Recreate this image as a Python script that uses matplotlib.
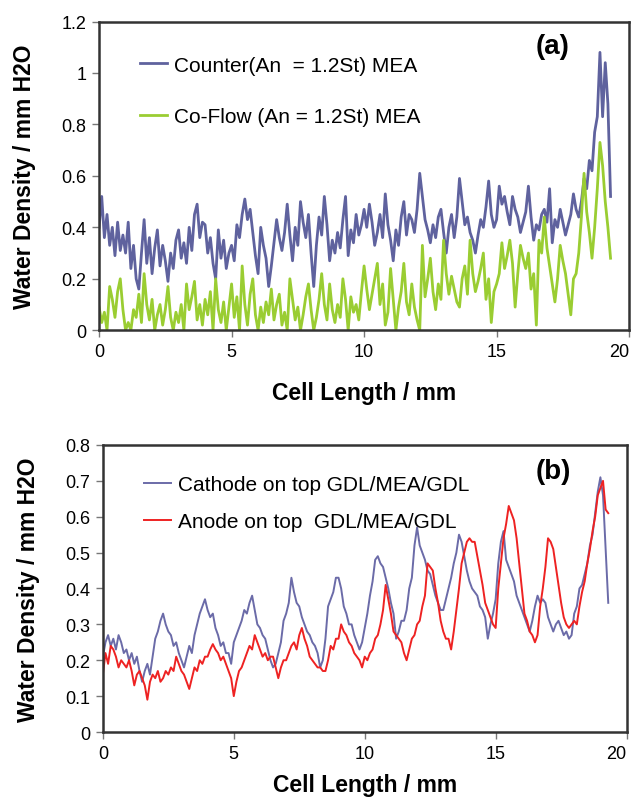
import numpy as np
import matplotlib.pyplot as plt
from matplotlib.ticker import FuncFormatter

step = 0.1

counter_mea = [
    0.40, 0.52, 0.36, 0.45, 0.33, 0.40, 0.29, 0.42, 0.31, 0.37,
    0.30, 0.42, 0.24, 0.33, 0.20, 0.16, 0.30, 0.43, 0.26, 0.36,
    0.22, 0.32, 0.39, 0.25, 0.33, 0.27, 0.19, 0.30, 0.24, 0.35,
    0.39, 0.28, 0.34, 0.26, 0.40, 0.31, 0.45, 0.49, 0.36, 0.42,
    0.41, 0.30, 0.36, 0.26, 0.20, 0.39, 0.28, 0.35, 0.24, 0.30,
    0.33, 0.27, 0.41, 0.36, 0.45, 0.51, 0.43, 0.47, 0.38, 0.29,
    0.22, 0.40, 0.33, 0.28, 0.17, 0.25, 0.34, 0.43, 0.36, 0.31,
    0.38, 0.49, 0.37, 0.27, 0.40, 0.33, 0.50, 0.42, 0.36, 0.45,
    0.30, 0.17, 0.33, 0.44, 0.37, 0.52, 0.41, 0.27, 0.35, 0.30,
    0.38, 0.32, 0.43, 0.52, 0.29, 0.39, 0.34, 0.45, 0.37, 0.41,
    0.47, 0.40, 0.49, 0.42, 0.33, 0.38, 0.45, 0.36, 0.53, 0.41,
    0.35, 0.27, 0.39, 0.33, 0.44, 0.50, 0.37, 0.45, 0.43, 0.38,
    0.47, 0.61, 0.52, 0.43, 0.39, 0.34, 0.41, 0.36, 0.44, 0.47,
    0.38, 0.30, 0.40, 0.45, 0.36, 0.44, 0.59, 0.50, 0.41, 0.44,
    0.38, 0.35, 0.30, 0.37, 0.43, 0.40, 0.48, 0.58, 0.45, 0.40,
    0.43, 0.56, 0.49, 0.52, 0.46, 0.41, 0.52, 0.47, 0.44, 0.38,
    0.42, 0.46, 0.56, 0.44, 0.35, 0.41, 0.39, 0.45, 0.47, 0.42,
    0.55, 0.34, 0.43, 0.40, 0.47, 0.42, 0.37, 0.41, 0.45, 0.53,
    0.47, 0.44, 0.50, 0.59, 0.55, 0.66, 0.62, 0.77, 0.83, 1.08,
    0.83, 1.04, 0.88, 0.52,
]

coflow_mea = [
    0.09, 0.03, 0.07, 0.00, 0.17, 0.12, 0.05, 0.15, 0.20, 0.08,
    0.00, 0.03, 0.00, 0.08, 0.05, 0.14, 0.03, 0.22, 0.10, 0.04,
    0.12, 0.00, 0.06, 0.10, 0.02, 0.08, 0.17, 0.05, 0.00, 0.07,
    0.03, 0.10, 0.00, 0.18, 0.08, 0.13, 0.19, 0.04, 0.10, 0.02,
    0.12, 0.06, 0.15, 0.00, 0.20, 0.08, 0.03, 0.11, 0.00, 0.09,
    0.18, 0.05, 0.13, 0.00, 0.25, 0.10, 0.02, 0.14, 0.20, 0.06,
    0.00, 0.09, 0.03, 0.11, 0.06, 0.16, 0.04, 0.10, 0.14, 0.02,
    0.07, 0.00, 0.20, 0.12, 0.04, 0.09, 0.00, 0.06, 0.13, 0.18,
    0.08, 0.00, 0.05, 0.12, 0.22, 0.10, 0.04, 0.18, 0.08, 0.03,
    0.10, 0.05, 0.20, 0.12, 0.00, 0.13, 0.07, 0.10, 0.04, 0.15,
    0.25, 0.16, 0.08, 0.14, 0.20, 0.26, 0.10, 0.18, 0.02, 0.07,
    0.24, 0.12, 0.00, 0.09, 0.15, 0.26, 0.11, 0.06, 0.18, 0.09,
    0.04, 0.00, 0.33, 0.13, 0.20, 0.28, 0.15, 0.08, 0.18, 0.12,
    0.35, 0.22, 0.14, 0.21, 0.16, 0.11, 0.09, 0.20, 0.25, 0.14,
    0.35, 0.22, 0.15, 0.19, 0.24, 0.30, 0.12, 0.20, 0.03, 0.15,
    0.18, 0.22, 0.34, 0.24, 0.29, 0.35, 0.26, 0.09, 0.22, 0.33,
    0.28, 0.24, 0.30, 0.16, 0.22, 0.02, 0.35, 0.30, 0.44, 0.32,
    0.25, 0.18, 0.11, 0.20, 0.33, 0.27, 0.22, 0.14, 0.06, 0.20,
    0.22, 0.30, 0.44, 0.61, 0.46, 0.38, 0.28, 0.40, 0.55, 0.73,
    0.64, 0.50, 0.40, 0.28,
]

cathode_top = [
    0.21, 0.25, 0.27, 0.24, 0.26, 0.23, 0.27, 0.25, 0.22, 0.23,
    0.20, 0.22, 0.19, 0.21, 0.17, 0.14, 0.17, 0.19, 0.16, 0.21,
    0.26, 0.28, 0.31, 0.33, 0.30, 0.28, 0.27, 0.24, 0.25, 0.22,
    0.20, 0.18, 0.21, 0.24, 0.22, 0.27, 0.30, 0.33, 0.35, 0.37,
    0.34, 0.32, 0.33, 0.29, 0.27, 0.24, 0.25, 0.22, 0.22, 0.19,
    0.25, 0.27, 0.29, 0.31, 0.34, 0.33, 0.36, 0.38, 0.34, 0.30,
    0.29, 0.27, 0.26, 0.23, 0.20, 0.18, 0.19, 0.22, 0.25, 0.31,
    0.33, 0.36, 0.43, 0.39, 0.36, 0.35, 0.32, 0.30, 0.28, 0.27,
    0.25, 0.24, 0.22, 0.18, 0.20, 0.26, 0.35, 0.37, 0.39, 0.43,
    0.43, 0.40, 0.35, 0.33, 0.30, 0.30, 0.27, 0.25, 0.23, 0.25,
    0.29, 0.33, 0.38, 0.42, 0.48, 0.49, 0.47, 0.46, 0.43, 0.40,
    0.36, 0.33, 0.26, 0.28, 0.31, 0.31, 0.34, 0.40, 0.43, 0.52,
    0.57, 0.52, 0.50, 0.48, 0.45, 0.44, 0.41, 0.38, 0.36, 0.34,
    0.34, 0.37, 0.40, 0.43, 0.47, 0.50, 0.55, 0.53, 0.49, 0.45,
    0.42, 0.40, 0.39, 0.38, 0.35, 0.34, 0.32, 0.26, 0.30, 0.33,
    0.37, 0.47, 0.53, 0.56, 0.48, 0.46, 0.44, 0.42, 0.38, 0.36,
    0.34, 0.32, 0.30, 0.28, 0.31, 0.35, 0.38, 0.36, 0.37, 0.36,
    0.32, 0.30, 0.28, 0.30, 0.31, 0.29, 0.27, 0.28, 0.26, 0.27,
    0.33, 0.35, 0.40, 0.41, 0.44, 0.47, 0.52, 0.55, 0.61, 0.67,
    0.71, 0.66, 0.51, 0.36,
]

anode_top = [
    0.16, 0.22, 0.19, 0.24, 0.23, 0.21, 0.18, 0.20, 0.19, 0.18,
    0.20, 0.17, 0.13, 0.16, 0.17, 0.15, 0.13, 0.09, 0.14, 0.16,
    0.15, 0.17, 0.14, 0.15, 0.17, 0.16, 0.18, 0.17, 0.21, 0.19,
    0.17, 0.16, 0.14, 0.12, 0.15, 0.18, 0.17, 0.20, 0.19, 0.21,
    0.21, 0.23, 0.245, 0.23, 0.22, 0.20, 0.21, 0.19, 0.17, 0.15,
    0.10, 0.14, 0.17, 0.18, 0.20, 0.22, 0.24, 0.23, 0.27, 0.25,
    0.23, 0.21, 0.22, 0.20, 0.21, 0.21, 0.18, 0.15, 0.18, 0.20,
    0.20, 0.22, 0.24, 0.25, 0.23, 0.27, 0.29, 0.26, 0.24, 0.21,
    0.20, 0.19, 0.18, 0.18, 0.17, 0.17, 0.20, 0.24, 0.23, 0.26,
    0.26, 0.30, 0.28, 0.27, 0.25, 0.24, 0.22, 0.21, 0.20, 0.18,
    0.21, 0.20, 0.22, 0.23, 0.26, 0.27, 0.30, 0.34, 0.41, 0.37,
    0.33, 0.28, 0.27, 0.26, 0.25, 0.22, 0.20, 0.23, 0.26, 0.27,
    0.30, 0.31, 0.35, 0.38, 0.47, 0.46, 0.45, 0.40, 0.36, 0.31,
    0.28, 0.26, 0.26, 0.23, 0.28, 0.34, 0.40, 0.47, 0.50, 0.53,
    0.54, 0.53, 0.53, 0.49, 0.45, 0.41, 0.36, 0.34, 0.32, 0.30,
    0.29, 0.40, 0.47, 0.54, 0.58, 0.63, 0.61, 0.59, 0.54, 0.47,
    0.40, 0.33, 0.31, 0.28, 0.27, 0.25, 0.27, 0.35, 0.40, 0.46,
    0.54, 0.53, 0.51, 0.46, 0.41, 0.36, 0.32, 0.30, 0.29, 0.30,
    0.31, 0.30, 0.35, 0.39, 0.42, 0.47, 0.51, 0.56, 0.60, 0.66,
    0.68, 0.70, 0.62, 0.61,
]

labels_a = ['Counter(An  = 1.2St) MEA', 'Co-Flow (An = 1.2St) MEA']
labels_b = ['Cathode on top GDL/MEA/GDL', 'Anode on top  GDL/MEA/GDL']

x_a = np.arange(len(counter_mea)) * step
x_b = np.arange(len(cathode_top)) * step

plt.rcParams['font.family'] = ['Liberation Sans', 'DejaVu Sans']

fig = plt.figure(figsize=(6.31, 8.04), dpi=100)
ax1 = fig.add_axes([0.157, 0.588, 0.840, 0.384])
ax2 = fig.add_axes([0.163, 0.0883, 0.830, 0.357])

fmt = FuncFormatter(lambda v, p: '%g' % round(v, 2))

def style(ax, ymax, ystep, xpad):
    ax.set_xlim(0, 20)
    ax.set_ylim(0, ymax)
    ax.set_xticks(np.arange(0, 21, 5))
    ax.set_yticks(np.arange(0, ymax + 1e-9, ystep))
    ax.yaxis.set_major_formatter(fmt)
    for s in ax.spines.values():
        s.set_color('#333333')
        s.set_linewidth(1.8)
    ax.tick_params(direction='out', length=5, width=1, color='#777777',
                   labelsize=13, pad=4)
    ax.get_xticklabels()[-1].set_horizontalalignment('right')
    ax.set_xlabel('Cell Length / mm', fontsize=16.5, fontweight='bold', labelpad=xpad)
    ax.set_ylabel('Water Density / mm H2O', fontsize=16.5, fontweight='bold', labelpad=18)

# (a)
ax1.plot(x_a, counter_mea, color='#5f629e', lw=2.0, label=labels_a[0])
ax1.plot(x_a, coflow_mea, color='#9acd32', lw=2.0, label=labels_a[1])
style(ax1, 1.2, 0.2, 15)
ax1.legend(loc='upper left', bbox_to_anchor=(0.042, 0.95), frameon=False,
           fontsize=15, handlelength=1.3, handletextpad=0.35, labelspacing=1.55)
ax1.text(0.855, 0.92, '(a)', transform=ax1.transAxes, fontsize=20,
         fontweight='bold', ha='center', va='center')

# (b)
ax2.plot(x_b, cathode_top, color='#6b6ba8', lw=1.4, label=labels_b[0])
ax2.plot(x_b, anode_top, color='#ee2222', lw=1.4, label=labels_b[1])
style(ax2, 0.8, 0.1, 8)
ax2.legend(loc='upper left', bbox_to_anchor=(0.042, 0.96), frameon=False,
           fontsize=15, handlelength=1.3, handletextpad=0.35, labelspacing=0.85)
ax2.text(0.86, 0.91, '(b)', transform=ax2.transAxes, fontsize=20,
         fontweight='bold', ha='center', va='center')

fig.savefig('out.png', dpi=100)
